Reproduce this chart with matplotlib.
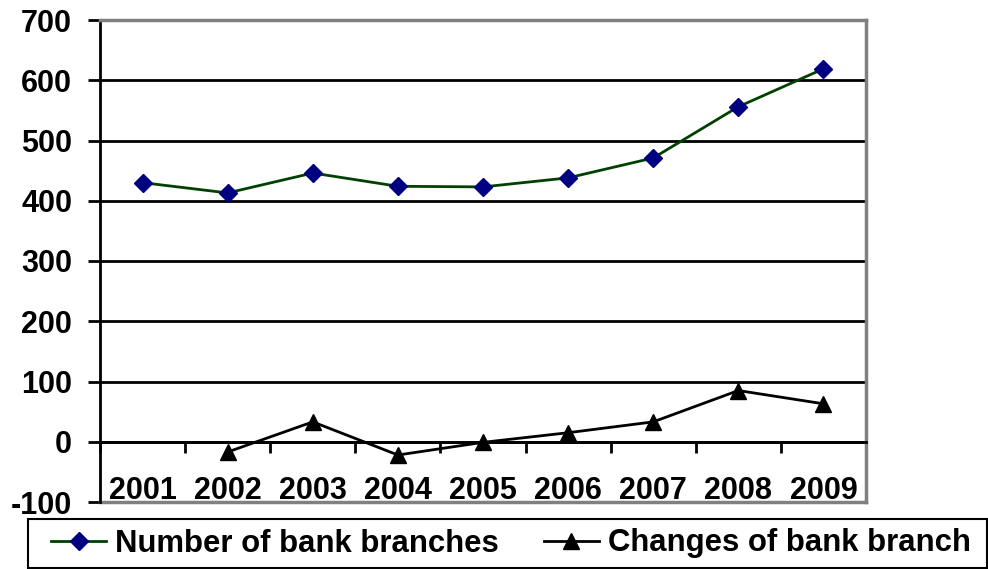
import matplotlib
matplotlib.use("Agg")
import matplotlib.pyplot as plt
from matplotlib.patches import Rectangle
import numpy as np

years = ["2001", "2002", "2003", "2004", "2005", "2006", "2007", "2008", "2009"]
branches = [430, 413, 446, 424, 423, 438, 471, 556, 619]
changes = [np.nan, -17, 33, -22, -1, 15, 33, 85, 63]
yticks = [-100, 0, 100, 200, 300, 400, 500, 600, 700]

plt.rcParams['font.family'] = ['Liberation Sans', 'DejaVu Sans']
plt.rcParams['font.weight'] = 'bold'

fig = plt.figure(figsize=(9.88, 5.69), dpi=100)
W, H = 988, 569
ax = fig.add_axes([100 / W, (H - 502) / H, 766 / W, 482 / H])

x = np.arange(len(years))
l1, = ax.plot(x, branches, color='#004000', lw=2, marker='D', markersize=9,
              markerfacecolor='#000080', markeredgecolor='#000080', label='Number of bank branches')
l2, = ax.plot(x, changes, color='black', lw=2, marker='^', markersize=11,
              markerfacecolor='black', markeredgecolor='black', label='Changes of bank branch')

ax.set_xlim(-0.5, len(years) - 0.5)
ax.set_ylim(-100, 700)

# gridlines
for v in yticks[1:-1]:
    ax.axhline(v, color='black', lw=2, zorder=0.5)

ax.set_yticks(yticks)
ax.set_yticklabels([str(v) for v in yticks], fontsize=22, fontweight='bold')
ax.tick_params(axis='y', direction='out', length=9, width=2, pad=11)

# x-axis at 0 with boundary ticks
ax.spines['bottom'].set_position(('data', 0))
ax.spines['bottom'].set_linewidth(2)
ax.set_xticks(np.arange(len(years) + 1) - 0.5)
ax.set_xticklabels([])
ax.tick_params(axis='x', which='major', direction='out', length=8, width=2)
ax.set_xticks(x, minor=True)
ax.set_xticklabels(years, minor=True, fontsize=22, fontweight='bold')
ax.tick_params(axis='x', which='minor', length=0, pad=25)

ax.spines['left'].set_linewidth(2)
ax.spines['top'].set_color('#808080')
ax.spines['top'].set_linewidth(2.5)
ax.spines['right'].set_color('#808080')
ax.spines['right'].set_linewidth(2.5)
ax.axhline(-100, color='#808080', lw=2.5, clip_on=False)

# legend box
fig.patches.append(Rectangle((28 / W, (H - 568) / H), (987 - 28) / W, 49 / H,
                             transform=fig.transFigure, fill=False,
                             edgecolor='black', linewidth=1.5))
leg = fig.legend(handles=[l1, l2], loc='center left',
                 bbox_to_anchor=(51 / W, (H - 543.5) / H),
                 ncol=2, frameon=False,
                 prop={'size': 22.4, 'weight': 'bold'}, handlelength=1.77,
                 handletextpad=0.29, columnspacing=1.45, borderaxespad=0, borderpad=0)

fig.savefig("out.png", dpi=100)
